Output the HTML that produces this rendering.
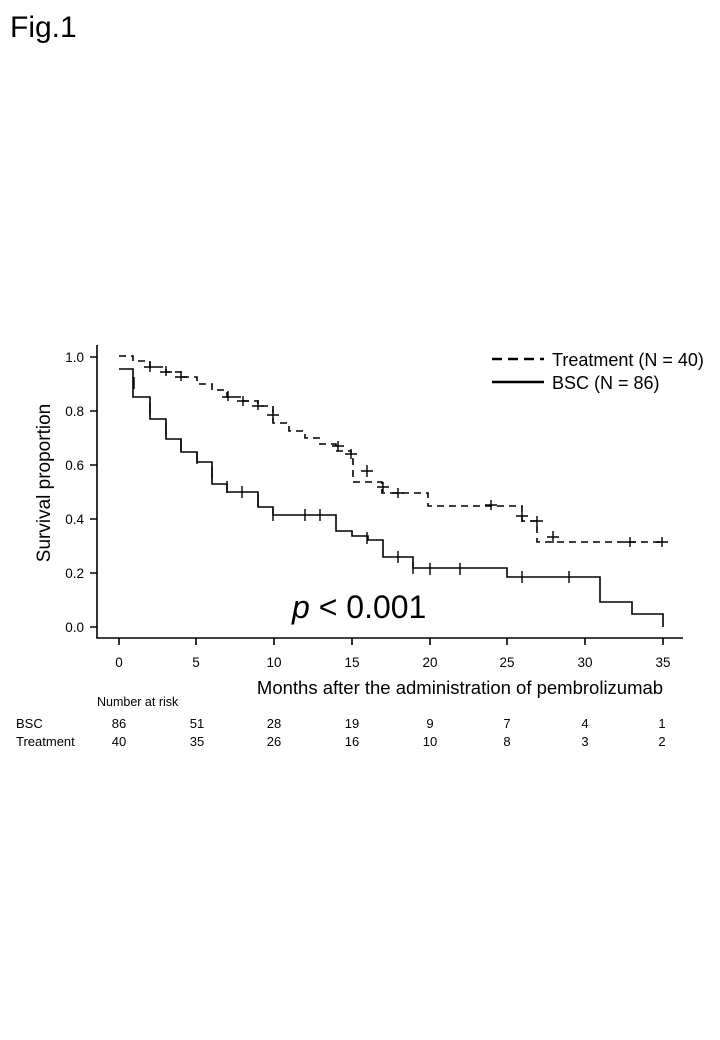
<!DOCTYPE html>
<html><head><meta charset="utf-8"><style>
body{margin:0;background:#fff;}
svg{display:block;font-family:"Liberation Sans",Arial,sans-serif;}
</style></head><body>
<svg width="720" height="1040" viewBox="0 0 720 1040" xmlns="http://www.w3.org/2000/svg">
<rect width="720" height="1040" fill="#fff"/>
<text x="10" y="37" font-size="30">Fig.1</text>
<g stroke="#000" stroke-width="1.6" fill="none">
<path d="M97,345 V638 H683"/>
<path d="M90,357H97M90,411H97M90,465H97M90,519H97M90,573H97M90,627H97"/>
<path d="M119,638V645M196,638V645M274,638V645M352,638V645M430,638V645M507,638V645M585,638V645M663,638V645"/>
</g>
<g font-size="13.5" text-anchor="end">
<text x="84" y="362">1.0</text><text x="84" y="416">0.8</text><text x="84" y="470">0.6</text>
<text x="84" y="524">0.4</text><text x="84" y="578">0.2</text><text x="84" y="632">0.0</text>
</g>
<g font-size="13.5" text-anchor="middle">
<text x="119" y="667">0</text><text x="196" y="667">5</text><text x="274" y="667">10</text><text x="352" y="667">15</text>
<text x="430" y="667">20</text><text x="507" y="667">25</text><text x="585" y="667">30</text><text x="663" y="667">35</text>
</g>
<text x="50" y="483" font-size="19" text-anchor="middle" transform="rotate(-90 50 483)">Survival proportion</text>
<text x="460" y="694" font-size="18.5" text-anchor="middle">Months after the administration of pembrolizumab</text>
<text x="292" y="618" font-size="32"><tspan font-style="italic">p</tspan> &lt; 0.001</text>
<!-- BSC -->
<path fill="none" stroke="#000" stroke-width="1.6" d="M119,369H133V397H150V419H166V439H181V452H197V462H212V484H227V492H258V507H273V515H336V531H352V536H368V540H383V557H413V568H507V577H600V602H632V614H663V627"/>
<path fill="none" stroke="#000" stroke-width="1.4" d="M134,377V389M150,403V415M166,423V435M181,439V451M197,452V464M212,467V479M227,481V493M242,486V498M258,494V506M273,509V521M305,509V521M320,509V521M367,532V544M398,551V563M413,562V574M430,563V575M460,563V575M522,571V583M569,571V583"/>
<!-- Treatment -->
<path fill="none" stroke="#000" stroke-width="1.6" stroke-dasharray="7,5" d="M119,356H133V361H150V367H166V372H181V377H197V384H212V390H227V397H243V401H258V406H273V423H289V431H305V438H320V444H336V451H351V459H353V482H382V493H428V506H522V521H537V542H663"/>
<path fill="none" stroke="#000" stroke-width="1.4" d="M150,362V372M166,366V376M181,371V381M228,391V401M243,396V406M258,400V410M273,409V421M338,441V451M351,449V459M367,465V477M383,482V492M398,488V498M491,500V510M522,512V522M537,516V526M553,531V543M630,537V547M662,537V547"/>
<path fill="none" stroke="#000" stroke-width="1.4" d="M144,367H156M160,372H172M175,377H187M222,397H234M237,401H249M252,406H264M267,415H279M332,446H344M345,454H357M361,471H373M377,487H389M392,493H404M485,505H497M516,516H528M531,521H543M547,537H559M624,542H636M656,542H668"/>
<!-- legend -->
<path stroke="#000" stroke-width="2.4" stroke-dasharray="10,6" d="M492,359H544"/>
<path stroke="#000" stroke-width="2.4" d="M492,382H544"/>
<text x="552" y="366" font-size="18">Treatment (N = 40)</text>
<text x="552" y="389" font-size="18">BSC (N = 86)</text>
<!-- risk table -->
<text x="97" y="706" font-size="12.5">Number at risk</text>
<g font-size="13">
<text x="16" y="728">BSC</text><text x="16" y="746">Treatment</text>
</g>
<g font-size="13" text-anchor="middle">
<text x="119" y="728">86</text><text x="197" y="728">51</text><text x="274" y="728">28</text><text x="352" y="728">19</text>
<text x="430" y="728">9</text><text x="507" y="728">7</text><text x="585" y="728">4</text><text x="662" y="728">1</text>
<text x="119" y="746">40</text><text x="197" y="746">35</text><text x="274" y="746">26</text><text x="352" y="746">16</text>
<text x="430" y="746">10</text><text x="507" y="746">8</text><text x="585" y="746">3</text><text x="662" y="746">2</text>
</g>
</svg>
</body></html>
